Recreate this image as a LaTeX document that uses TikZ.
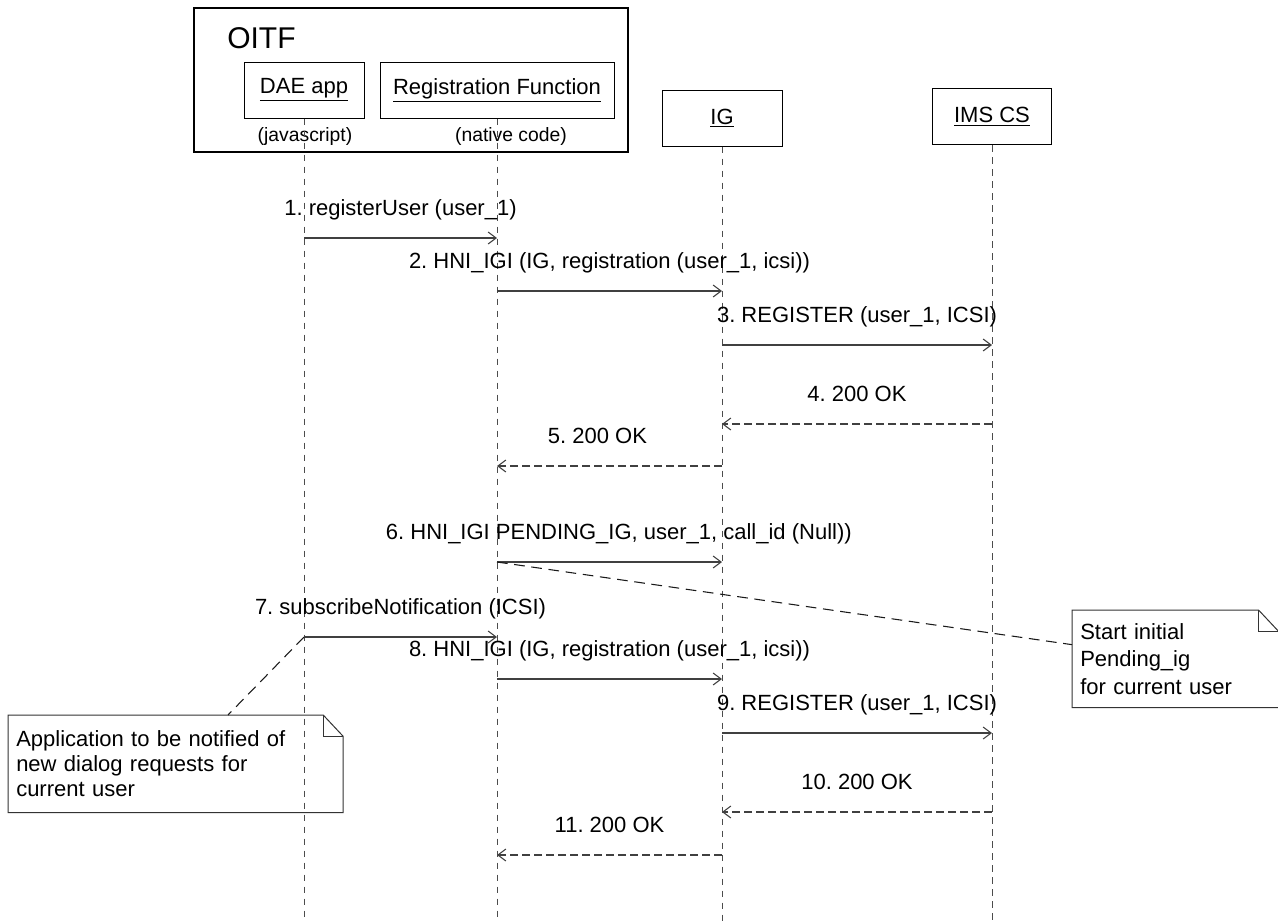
\documentclass[tikz,border=0pt]{standalone}
\usepackage{fontspec}
\setmainfont{Liberation Sans}
\usetikzlibrary{arrows.meta}
\frenchspacing

\tikzset{
  txt/.style={font=\fontsize{16.5}{19}\selectfont},
  actor/.style={draw, line width=0.75pt, minimum height=42pt, inner sep=0pt, txt},
  lifeline/.style={draw=black!70, line width=0.75pt, dash pattern=on 5pt off 4pt},
  call/.style={-{Straight Barb[length=6pt,width=9pt]}, draw=black!75, line width=0.8pt},
  reply/.style={call, dash pattern=on 6pt off 3pt},
  msglabel/.style={txt, text height=12pt, text depth=3.5pt, inner sep=0pt, yshift=21pt},
  notetext/.style={align=left, inner sep=6pt, anchor=north west},
  notebox/.style={draw=black!80, line width=0.75pt},
  notelink/.style={draw=black!90, line width=0.8pt, dash pattern=on 8pt off 5pt}
}

\begin{document}
\begin{tikzpicture}[x=0.75pt, y=-0.75pt]
  \useasboundingbox (0,0) rectangle (1278,922);
  %participants
  \node[actor, line width=1pt, minimum width=325.5pt, minimum height=108pt] (oitf) at (411,80) {};
  \node[anchor=west, inner sep=0pt, font=\fontsize{22.5}{26}\selectfont] (oitflabel) at (227,38) {OITF};
  \node[actor, minimum width=90pt] (dae) at (304,90) {\underline{DAE app}};
  \node[actor, minimum width=175.5pt] (regf) at (497,90) {\underline{Registration Function}};
  \node[actor, minimum width=90pt] (ig) at (722,118) {\underline{IG}};
  \node[actor, minimum width=89pt] (ims) at (992,116.5) {\underline{IMS CS}};
  \node[inner sep=0pt, font=\fontsize{14.5}{17}\selectfont] (daelang) at (305,136) {(javascript)};
  \node[inner sep=0pt, font=\fontsize{14.5}{17}\selectfont] (regflang) at (511,136) {(native code)};
  %lifelines
  \coordinate (bottom) at (0,922);
  \foreach \p in {dae,regf,ig,ims}
    \draw[lifeline] (\p.south) -- (\p.south |- bottom);
  %message rows
  \foreach \n/\y in {1/238,2/291,3/345,4/424,5/466,6/562,7/637,8/679,9/733,10/812,11/855}
    \coordinate (m\n) at (0,\y);
  %messages
  \draw[call] (dae |- m1) -- node[msglabel] {1. registerUser (user\_1)} (regf |- m1);
  \draw[call] (regf |- m2) -- node[msglabel] {2. HNI\_IGI (IG, registration (user\_1, icsi))} (ig |- m2);
  \draw[call] (ig |- m3) -- node[msglabel] {3. REGISTER (user\_1, ICSI)} (ims |- m3);
  \draw[reply] (ims |- m4) -- node[msglabel] {4. 200 OK} (ig |- m4);
  \draw[reply] (ig |- m5) -- node[msglabel, xshift=-9pt] {5. 200 OK} (regf |- m5);
  \draw[call] (regf |- m6) -- node[msglabel, xshift=7pt] {6. HNI\_IGI PENDING\_IG, user\_1, call\_id (Null))} (ig |- m6);
  \draw[call] (dae |- m7) -- node[msglabel] {7. subscribeNotification (ICSI)} (regf |- m7);
  \draw[call] (regf |- m8) -- node[msglabel] {8. HNI\_IGI (IG, registration (user\_1, icsi))} (ig |- m8);
  \draw[call] (ig |- m9) -- node[msglabel] {9. REGISTER (user\_1, ICSI)} (ims |- m9);
  \draw[reply] (ims |- m10) -- node[msglabel] {10. 200 OK} (ig |- m10);
  \draw[reply] (ig |- m11) -- node[msglabel] {11. 200 OK} (regf |- m11);
  %notes
  \node[notetext, text width=239pt, minimum height=72.75pt, font=\fontsize{16.5}{18.75}\selectfont]
    (appnote) at (8,715) {Application to be notified of\\ new dialog requests for\\ current user};
  \node[notetext, text width=142.5pt, minimum height=72.75pt, font=\fontsize{16.5}{20.6}\selectfont]
    (pendnote) at (1072,610) {Start initial\\ Pending\_ig\\ for current user};
  \foreach \nt in {appnote,pendnote} {
    \draw[notebox] (\nt.north west) -- ([xshift=-15pt]\nt.north east) -- ([yshift=-16pt]\nt.north east)
      -- (\nt.south east) -- (\nt.south west) -- cycle;
    \draw[notebox] ([xshift=-15pt]\nt.north east) |- ([yshift=-16pt]\nt.north east);
  }
  \draw[notelink] (regf |- m6) -- ([yshift=-26pt]pendnote.north west);
  \draw[notelink] (dae |- m7) -- ([xshift=165pt]appnote.north west);
\end{tikzpicture}
\end{document}
